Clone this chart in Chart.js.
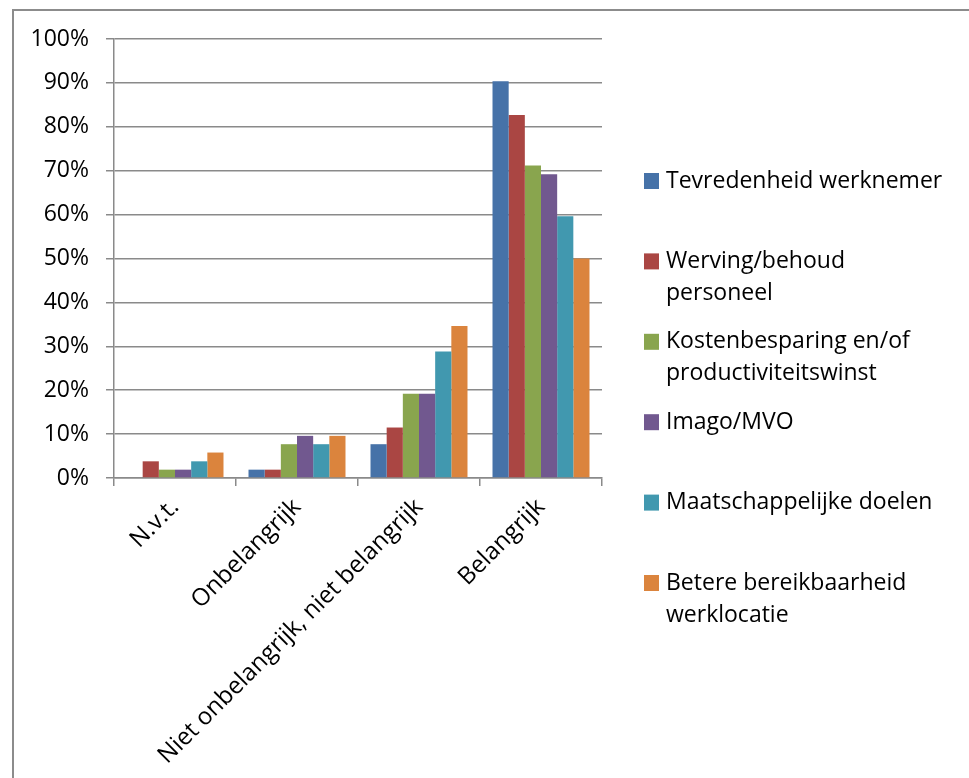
<!DOCTYPE html>
<html>
<head>
<meta charset="utf-8">
<script src="https://cdn.jsdelivr.net/npm/chart.js@4"></script>
<style>
  html, body { margin: 0; padding: 0; background: #fff; overflow: hidden; }
  #frame { position: absolute; left: 12px; top: 9px; width: 1100px; height: 900px;
           border-left: 2px solid #8c8c8c; border-top: 2px solid #8c8c8c; }
  #wrap { position: absolute; left: 0; top: 0; width: 969px; height: 778px; }
</style>
</head>
<body>
<div id="frame"></div>
<div id="wrap"><canvas id="chart"></canvas></div>
<script>
// categories and series (percent of respondents)
const categories = ['N.v.t.', 'Onbelangrijk', 'Niet onbelangrijk, niet belangrijk', 'Belangrijk'];
const seriesLines = [
  ['Tevredenheid werknemer'],
  ['Werving/behoud', 'personeel'],
  ['Kostenbesparing en/of', 'productiviteitswinst'],
  ['Imago/MVO'],
  ['Maatschappelijke doelen'],
  ['Betere bereikbaarheid', 'werklocatie'],
];
const tevredenheid = [0, 1.9, 7.7, 90.4];
const werving = [3.8, 1.9, 11.5, 82.7];
const kosten = [1.9, 7.7, 19.2, 71.2];
const imago = [1.9, 9.6, 19.2, 69.2];
const maatschappelijk = [3.8, 7.7, 28.8, 59.6];
const bereikbaarheid = [5.8, 9.6, 34.6, 50.0];
const yTicks = [0, 10, 20, 30, 40, 50, 60, 70, 80, 90, 100];

const COLORS = ['#4672A8', '#AA4643', '#89A54E', '#71588F', '#4198AF', '#DB843D'];
const GRID = '#8a8a8a';
const FONT = { family: "'Open Sans', sans-serif", size: 23 };

const seriesData = [tevredenheid, werving, kosten, imago, maatschappelijk, bereikbaarheid];

// legend drawn by hand so the long names can wrap like Excel's
const sideLegend = {
  id: 'sideLegend',
  afterDraw(chart) {
    const ctx = chart.ctx;
    ctx.save();
    ctx.font = `${FONT.size}px ${FONT.family}`;
    ctx.textBaseline = 'middle';
    ctx.textAlign = 'left';
    chart.data.datasets.forEach((ds, i) => {
      const y = 181 + i * 80.4;
      ctx.fillStyle = ds.backgroundColor;
      ctx.fillRect(644, y - 8, 15, 16);
      ctx.fillStyle = '#000';
      seriesLines[i].forEach((line, j) => ctx.fillText(line, 666, y + j * 32));
    });
    ctx.restore();
  },
};

new Chart(document.getElementById('chart'), {
  type: 'bar',
  data: {
    labels: categories,
    datasets: seriesData.map((d, i) => ({
      label: seriesLines[i].join(' '),
      data: d,
      backgroundColor: COLORS[i],
      borderWidth: 0,
      categoryPercentage: 0.795,
      barPercentage: 1,
    })),
  },
  options: {
    responsive: true,
    maintainAspectRatio: false,
    animation: false,
    layout: { padding: { top: 39, right: 367, left: 0, bottom: 0 } },
    plugins: { legend: { display: false }, tooltip: { enabled: false } },
    scales: {
      x: {
        offset: true,
        grid: { display: true, drawOnChartArea: false, color: GRID, lineWidth: 1.5, tickLength: 8, offset: true },
        border: { color: GRID, width: 1.5 },
        ticks: { color: '#000', font: { family: FONT.family, size: 24 }, minRotation: 45, maxRotation: 45, padding: 7 },
        afterFit: s => { s.height = 300; },
      },
      y: {
        min: 0,
        max: 100,
        afterBuildTicks: s => { s.ticks = yTicks.map(v => ({ value: v })); },
        grid: { color: GRID, lineWidth: 1.5, tickLength: 8 },
        border: { color: GRID, width: 1.5 },
        ticks: { color: '#000', font: FONT, padding: 17, callback: v => v + '%' },
        afterFit: s => { s.width = 114; },
      },
    },
  },
  plugins: [sideLegend],
});
</script>
</body>
</html>
